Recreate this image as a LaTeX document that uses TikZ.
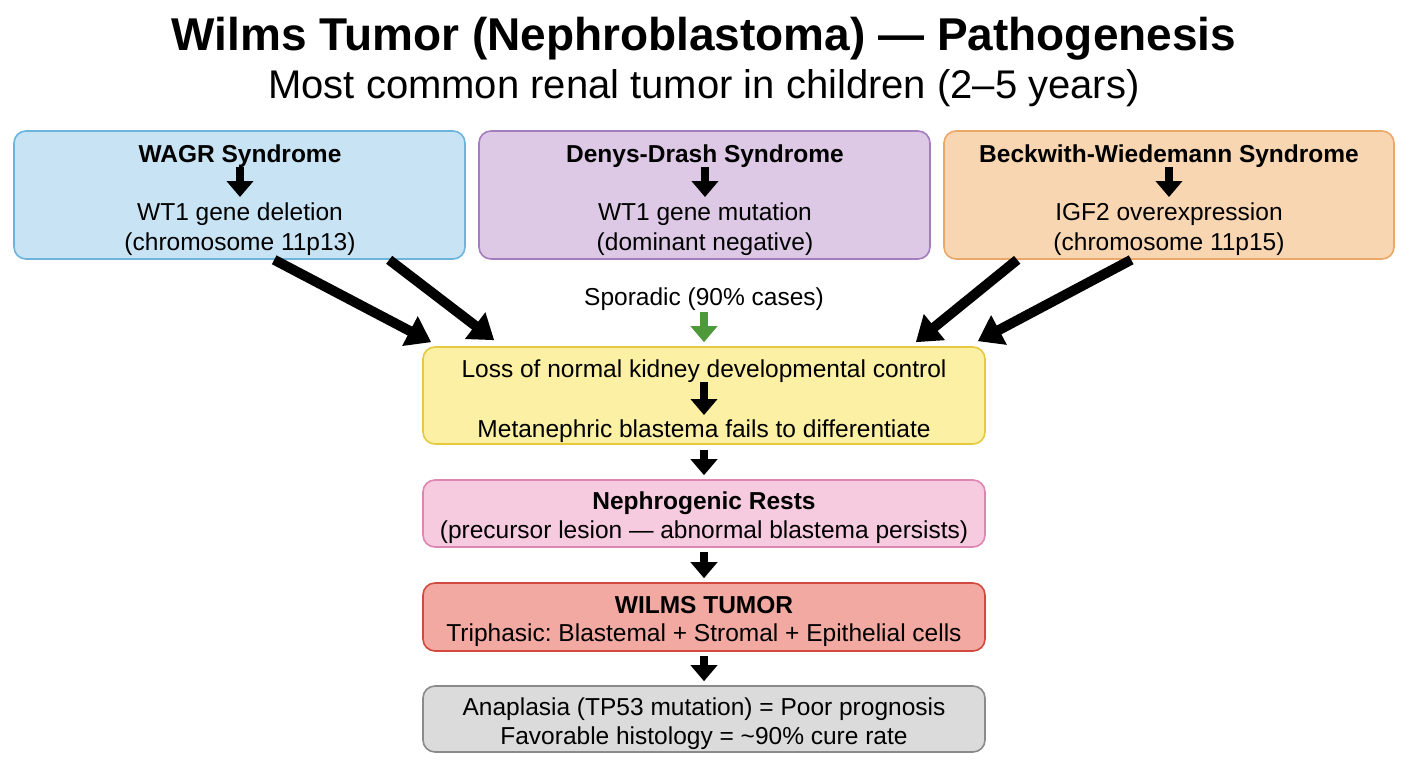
\documentclass[tikz,border=0pt]{standalone}
\usepackage{fontspec}
\setmainfont{Liberation Sans}
\frenchspacing
\usetikzlibrary{arrows.meta}
\definecolor{bluef}{HTML}{C8E4F4}
\definecolor{blued}{HTML}{6CB4DC}
\definecolor{purf}{HTML}{DDC9E6}
\definecolor{purd}{HTML}{A57DBE}
\definecolor{oraf}{HTML}{F9D6B2}
\definecolor{orad}{HTML}{ECA867}
\definecolor{yelf}{HTML}{FBF0A3}
\definecolor{yeld}{HTML}{E7C93F}
\definecolor{pinf}{HTML}{F6CADF}
\definecolor{pind}{HTML}{DE86B2}
\definecolor{redf}{HTML}{F2A9A2}
\definecolor{redd}{HTML}{D2493F}
\definecolor{grayf}{HTML}{DBDBDB}
\definecolor{grayd}{HTML}{8A8A8A}
\definecolor{grn}{HTML}{4E9A3A}
\begin{document}
\begin{tikzpicture}[x=1pt,y=-1pt,
  box/.style={draw, rounded corners=12pt, line width=1.6pt, inner sep=0pt},
  topbox/.style={box, minimum width=451pt, minimum height=128pt},
  midbox/.style={box, minimum width=562pt},
  txt/.style={inner sep=0pt, anchor=base, font=\fontsize{24.5}{29}\selectfont},
  txtb/.style={inner sep=0pt, anchor=base, font=\fontsize{24.5}{29}\selectfont\bfseries},
  inarr/.style={line width=8pt, -{Triangle[width=26pt,length=16pt]}},
  bigarr/.style={line width=10pt, -{Triangle[width=32pt,length=24pt]}}
]
\useasboundingbox (0,0) rectangle (1408,768);
\fill[white] (0,0) rectangle (1408,768);

% title
\node[inner sep=0pt, anchor=base, font=\fontsize{46}{50}\selectfont\bfseries] (title) at (704,51) {Wilms Tumor (Nephroblastoma) — Pathogenesis};
\node[inner sep=0pt, anchor=base, font=\fontsize{40}{44}\selectfont] (sub) at (704,99) {Most common renal tumor in children (2–5 years)};

% top boxes
\node[topbox, fill=bluef, draw=blued] (wagr) at (239.5,195) {};
\node[topbox, fill=purf, draw=purd] (dd) at (704.5,195) {};
\node[topbox, minimum width=450pt, fill=oraf, draw=orad] (bw) at (1169,195) {};

\node[txtb] (wagrh) at (240,162) {WAGR Syndrome};
\node[txt] (wagr1) at (240,220) {WT1 gene deletion};
\node[txt] (wagr2) at (240,250) {(chromosome 11p13)};
\draw[inarr, shorten >=5pt] (wagrh.south) -- (wagrh.south |- wagr1.north);

\node[txtb] (ddh) at (705,162) {Denys-Drash Syndrome};
\node[txt] (dd1) at (705,220) {WT1 gene mutation};
\node[txt] (dd2) at (705,250) {(dominant negative)};
\draw[inarr, shorten >=5pt] (ddh.south) -- (ddh.south |- dd1.north);

\node[txtb] (bwh) at (1169,162) {Beckwith-Wiedemann Syndrome};
\node[txt] (bw1) at (1169,220) {IGF2 overexpression};
\node[txt] (bw2) at (1169,250) {(chromosome 11p15)};
\draw[inarr, shorten >=5pt] (bwh.south) -- (bwh.south |- bw1.north);

% middle column
\node[midbox, minimum height=97pt, fill=yelf, draw=yeld] (yel) at (704,395.5) {};
\node[midbox, minimum height=67pt, fill=pinf, draw=pind] (pin) at (704,513.5) {};
\node[midbox, minimum height=68pt, fill=redf, draw=redd] (red) at (704,617) {};
\node[midbox, minimum height=66pt, fill=grayf, draw=grayd] (gry) at (704,719) {};

\node[txt] (spor) at (704,305) {Sporadic (90\% cases)};
\draw[inarr, draw=grn, fill=grn, shorten <=2pt, shorten >=4pt] (spor.south) -- (spor.south |- yel.north);

\node[txt] (yel1) at (704,377) {Loss of normal kidney developmental control};
\node[txt] (yel2) at (704,437) {Metanephric blastema fails to differentiate};
\draw[inarr, shorten >=4pt] (yel1.south) -- (yel1.south |- yel2.north);

\node[txtb] (pin1) at (704,509) {Nephrogenic Rests};
\node[txt] (pin2) at (704,538) {(precursor lesion — abnormal blastema persists)};

\node[txtb] (red1) at (704,613) {WILMS TUMOR};
\node[txt] (red2) at (704,641) {Triphasic: Blastemal + Stromal + Epithelial cells};

\node[txt] (gry1) at (704,715) {Anaplasia (TP53 mutation) = Poor prognosis};
\node[txt] (gry2) at (704,744) {Favorable histology = \textasciitilde90\% cure rate};

\draw[inarr, shorten <=5pt, shorten >=4pt] (yel.south) -- (pin.north);
\draw[inarr, shorten <=4pt, shorten >=4pt] (pin.south) -- (red.north);
\draw[inarr, shorten <=4pt, shorten >=4pt] (red.south) -- (gry.north);

% diagonal arrows
\draw[bigarr] ([xshift=261pt]wagr.south west) -- ([xshift=9pt,yshift=4pt]yel.north west);
\draw[bigarr] ([xshift=376pt]wagr.south west) -- ([xshift=72pt,yshift=6pt]yel.north west);
\draw[bigarr] ([xshift=74pt]bw.south west) -- ([xshift=-70pt,yshift=4pt]yel.north east);
\draw[bigarr] ([xshift=188pt]bw.south west) -- ([xshift=-8pt,yshift=5pt]yel.north east);
\end{tikzpicture}
\end{document}
